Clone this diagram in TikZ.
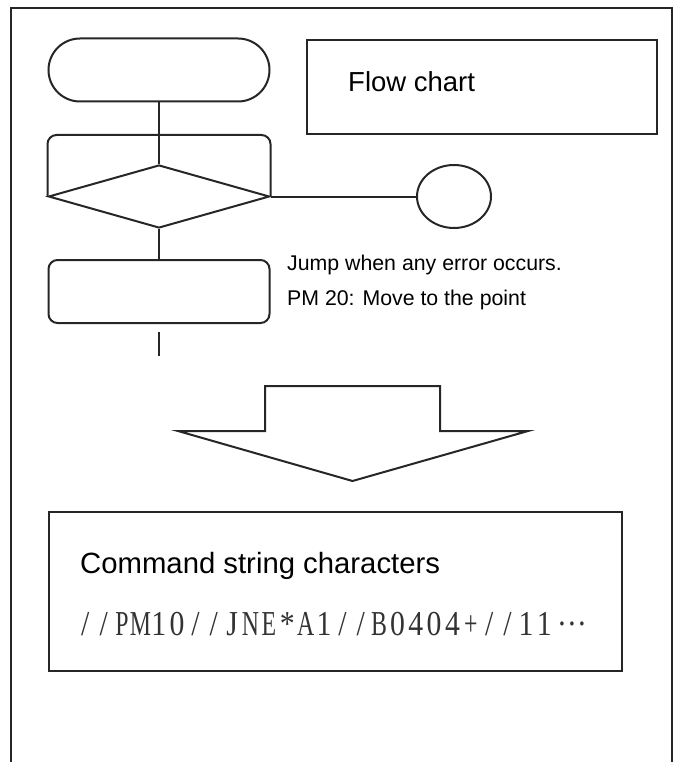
\documentclass[tikz,border=0pt]{standalone}
\usepackage{fontspec}
\usepackage{graphicx}
\setmainfont{Liberation Sans}
\newfontfamily\serifcmd{Liberation Serif}
\usetikzlibrary{shapes.geometric}
\newcommand\hwc[1]{\makebox[21.6pt][c]{#1}}
\newcommand\hwn[1]{\makebox[21.6pt][c]{\scalebox{0.8}[1]{#1}}}
\tikzset{
  ln/.style={draw=black!85, line width=2pt},
  procbox/.style={ln, rounded corners=9pt, minimum width=221pt, minimum height=63pt, inner sep=0pt},
  termbox/.style={ln, rounded corners=31.5pt, minimum width=221pt, minimum height=63pt, inner sep=0pt},
  decis/.style={ln, diamond, minimum width=221pt, minimum height=63pt, inner sep=0pt},
  conn/.style={ln, ellipse, minimum width=74pt, minimum height=63pt, inner sep=0pt},
  plainbox/.style={ln, line width=1.8pt, rectangle, inner sep=0pt},
  txt/.style={inner sep=0pt, text=black}
}
\begin{document}
\begin{tikzpicture}[x=1pt,y=1pt]
\useasboundingbox (0,0) rectangle (680,-762);
% outer frame (open at the bottom)
\draw[ln, line width=2pt] (11,-762) |- (672,-8) -- (672,-762);

% flowchart
\node[termbox] (term) at (159,-70) {};
\node[decis] (dia) at (159,-196.5) {};
\coordinate (looptop) at (159,-135);
\draw[ln, rounded corners=9pt] (dia.west) |- (looptop) -| (dia.east);
\draw[ln] (term.south) -- (dia.north);
\node[conn] (circ) at (454,-196.5) {};
\draw[ln] (dia.east) -- (circ.west);
\node[procbox] (box2) at (159,-291.5) {};
\draw[ln] (dia.south) -- (box2.north);
\coordinate (tailtop) at (159,-332);
\coordinate (tailend) at (159,-356);
\draw[ln] (tailtop) -- (tailend);

% title box
\node[plainbox, minimum width=350pt, minimum height=94pt] (title) at (482,-87) {};
\node[txt, anchor=base west, font=\fontsize{27.5}{32}\selectfont] (titletxt) at (348,-92) {Flow chart};

% notes
\node[txt, anchor=base west, font=\fontsize{21.3}{24}\selectfont] (note1) at (287,-270) {Jump when any error occurs.};
\node[txt, anchor=base west, font=\fontsize{21.3}{24}\selectfont] (note2) at (287,-305) {PM 20: Move to the point};

% big arrow
\draw[ln, line join=miter] (265,-386) -- (440,-386) -- (440,-431) -- (528,-431) -- (352.5,-481) -- (178,-431) -- (265,-431) -- cycle;

% command string box
\node[plainbox, minimum width=573pt, minimum height=159pt] (cmdbox) at (335.5,-591.5) {};
\node[txt, anchor=base west, font=\fontsize{29.3}{34}\selectfont] (cmdtitle) at (80,-573) {Command string characters};
\node[txt, anchor=base west, text=black!80, xscale=0.85, font=\serifcmd\fontsize{35}{40}\selectfont] (cmdstr) at (76,-635) {\hwc{/}\hwc{/}\hwn{P}\hwn{M}\hwc{1}\hwc{0}\hwc{/}\hwc{/}\hwc{J}\hwn{N}\hwn{E}\hwc{*}\hwn{A}\hwc{1}\hwc{/}\hwc{/}\hwn{B}\hwc{0}\hwc{4}\hwc{0}\hwc{4}\hwn{+}\hwc{/}\hwc{/}\hwc{1}\hwc{1}\makebox[43.2pt][c]{\raisebox{0.28em}{…}}};
\end{tikzpicture}
\end{document}
